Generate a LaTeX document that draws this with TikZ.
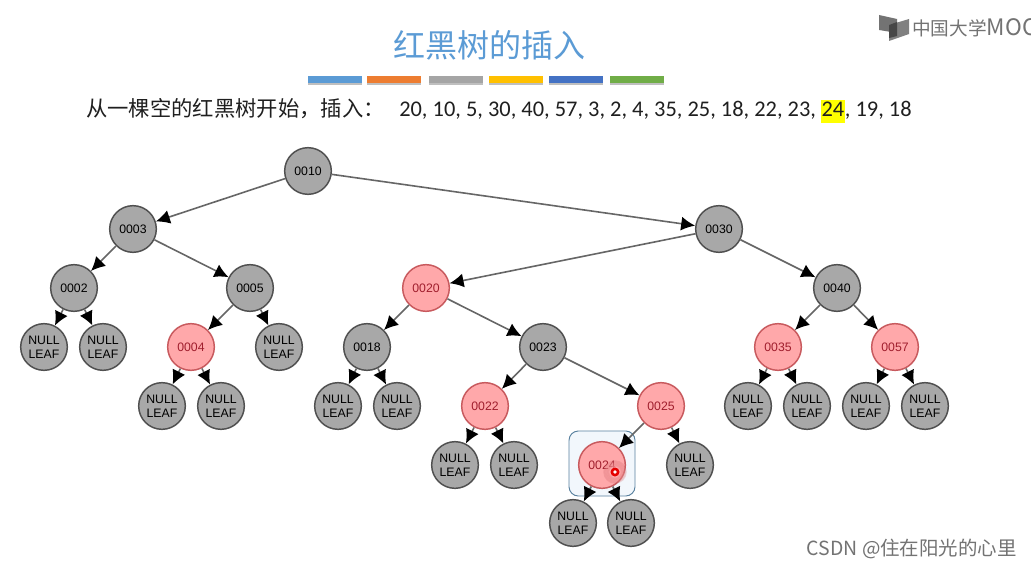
\documentclass[tikz,border=0pt]{standalone}
\usepackage{fontspec}
\setmainfont{Liberation Sans}
\newfontfamily\cjk{Noto Sans CJK SC}
\newfontfamily\carlito{Carlito}
\usepackage{xcolor}
\usetikzlibrary{arrows.meta}
\definecolor{titleblue}{RGB}{91,155,213}
\definecolor{nodegray}{RGB}{168,168,168}
\definecolor{nodeline}{RGB}{80,80,80}
\definecolor{nodepink}{RGB}{255,168,170}
\definecolor{pinkline}{RGB}{200,90,94}
\definecolor{redtext}{RGB}{160,30,45}
\definecolor{boxline}{RGB}{90,130,160}
\definecolor{boxfill}{RGB}{242,247,252}
\definecolor{mark}{RGB}{255,255,0}
\tikzset{
 blk/.style={circle,draw=nodeline,fill=nodegray,line width=1.1pt,minimum size=35pt,inner sep=0pt,font=\fontsize{9.2}{10.5}\selectfont,text=black,align=center},
 red/.style={blk,draw=pinkline,fill=nodepink,text=redtext},
 link/.style={draw=black!60,line width=1.2pt,-{Latex[length=10.5pt,width=10.5pt,color=black]}},
 bar/.style={minimum width=40.5pt,minimum height=4.6pt,inner sep=0pt,draw=none},
}
\begin{document}
\begin{tikzpicture}[x=0.75pt,y=-0.75pt]
\useasboundingbox (0,0) rectangle (1031,567);
\fill[white] (0,0) rectangle (1031,567);

% heading
\node[text=titleblue,font=\cjk\fontsize{24}{28}\selectfont] (title) at (489,45) {红黑树的插入};
\fill[black!25] (308,77.5) rectangle (362,85);
\fill[black!25] (367,77.5) rectangle (421,85);
\fill[black!25] (429,77.5) rectangle (483,85);
\fill[black!25] (489,77.5) rectangle (543,85);
\fill[black!25] (549,77.5) rectangle (603,85);
\fill[black!25] (610,77.5) rectangle (664,85);
\node[bar,fill={rgb,255:red,91;green,155;blue,213}] (bara) at (335,79.5) {};
\node[bar,fill={rgb,255:red,237;green,125;blue,49}] (barb) at (394,79.5) {};
\node[bar,fill={rgb,255:red,165;green,165;blue,165}] (barc) at (456,79.5) {};
\node[bar,fill={rgb,255:red,255;green,192;blue,0}] (bard) at (516,79.5) {};
\node[bar,fill={rgb,255:red,68;green,114;blue,196}] (bare) at (576,79.5) {};
\node[bar,fill={rgb,255:red,112;green,173;blue,71}] (barf) at (637,79.5) {};
\node[anchor=base west,inner sep=0pt,text=black!88,font=\cjk\fontsize{16}{18}\selectfont] (task) at (86,117)
 {从一棵空的红黑树开始，插入：};
\node[anchor=base west,inner sep=0pt,text=black!88,font=\carlito\fontsize{16.8}{18}\selectfont] (keys) at (399,117)
 {20, 10, 5, 30, 40, 57, 3, 2, 4, 35, 25, 18, 22, 23, \setlength{\fboxsep}{0.5pt}\colorbox{mark}{\rule[-4.2pt]{0pt}{16.5pt}24}, 19, 18};

% logo
\fill[black!55] (879,15) -- (897,19) -- (897,33) -- (879,30) -- cycle;
\fill[black!50] (889,25) -- (909,19) -- (909,34) -- (889,41) -- cycle;
\fill[black!72] (889,25) -- (897,22) -- (897,36) -- (889,38) -- cycle;
\node[anchor=west,inner sep=0pt,text=black!55,font=\cjk\fontsize{14}{18}\selectfont] (logo) at (912,28) {中国大学\fontsize{17}{18}\selectfont MOOC};

% selected node frame
\draw[draw=boxline,fill=boxfill,line width=0.7pt,rounded corners=7pt] (569,431) rectangle (635,496);

% level 0 and 1
\node[blk] (n10) at (308,171) {0010};
\node[blk] (n3) at (133,229) {0003};
\node[blk] (n30) at (719,229) {0030};
% level 2
\node[blk] (n2) at (74,288) {0002};
\node[blk] (n5) at (250,288) {0005};
\node[red] (n20) at (426,288) {0020};
\node[blk] (n40) at (837,288) {0040};
% level 3
\node[blk] (la) at (44,347) {NULL\\LEAF};
\node[blk] (lb) at (103,347) {NULL\\LEAF};
\node[red] (n4) at (191,347) {0004};
\node[blk] (lc) at (279,347) {NULL\\LEAF};
\node[blk] (n18) at (367,347) {0018};
\node[blk] (n23) at (543,347) {0023};
\node[red] (n35) at (778,347) {0035};
\node[red] (n57) at (895,347) {0057};
% level 4
\node[blk] (ld) at (162,406) {NULL\\LEAF};
\node[blk] (le) at (221,406) {NULL\\LEAF};
\node[blk] (lf) at (338,406) {NULL\\LEAF};
\node[blk] (lg) at (397,406) {NULL\\LEAF};
\node[red] (n22) at (485,406) {0022};
\node[red] (n25) at (661,406) {0025};
\node[blk] (lh) at (748,406) {NULL\\LEAF};
\node[blk] (li) at (807,406) {NULL\\LEAF};
\node[blk] (lj) at (866,406) {NULL\\LEAF};
\node[blk] (lk) at (925,406) {NULL\\LEAF};
% level 5
\node[blk] (ll) at (455,465) {NULL\\LEAF};
\node[blk] (lm) at (514,465) {NULL\\LEAF};
\node[red] (n24) at (602,465) {0024};
\node[blk] (ln) at (690,465) {NULL\\LEAF};
\node[blk] (lo) at (573,523) {NULL\\LEAF};
\node[blk] (lp) at (631,523) {NULL\\LEAF};

\draw[link] (n10) -- (n3);
\draw[link] (n10) -- (n30);
\draw[link] (n3) -- (n2);
\draw[link] (n3) -- (n5);
\draw[link] (n30) -- (n20);
\draw[link] (n30) -- (n40);
\draw[link] (n2) -- (la);
\draw[link] (n2) -- (lb);
\draw[link] (n5) -- (n4);
\draw[link] (n5) -- (lc);
\draw[link] (n20) -- (n18);
\draw[link] (n20) -- (n23);
\draw[link] (n40) -- (n35);
\draw[link] (n40) -- (n57);
\draw[link] (n4) -- (ld);
\draw[link] (n4) -- (le);
\draw[link] (n18) -- (lf);
\draw[link] (n18) -- (lg);
\draw[link] (n23) -- (n22);
\draw[link] (n23) -- (n25);
\draw[link] (n35) -- (lh);
\draw[link] (n35) -- (li);
\draw[link] (n57) -- (lj);
\draw[link] (n57) -- (lk);
\draw[link] (n22) -- (ll);
\draw[link] (n22) -- (lm);
\draw[link] (n25) -- (n24);
\draw[link] (n25) -- (ln);
\draw[link] (n24) -- (lo);
\draw[link] (n24) -- (lp);

% pointer dot
\foreach \r in {11,9.5,8,6.5}
 \fill[red,opacity=0.22] (615,472) circle (\r);
\fill[red!90!black] (615,472) circle (4.5);
\fill[white] (615,472) circle (1.8);

% watermark
\node[anchor=east,inner sep=0pt,text=black!55,font=\cjk\fontsize{14.6}{16}\selectfont] (mark) at (1017,549) {CSDN @住在阳光的心里};
\end{tikzpicture}
\end{document}
